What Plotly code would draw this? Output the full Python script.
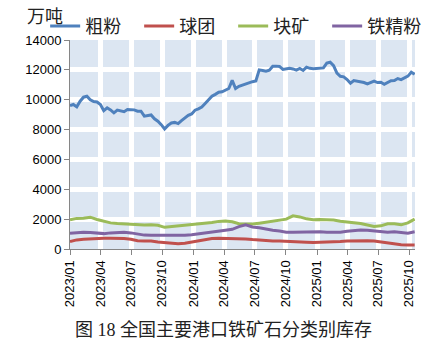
import pandas as pd
import plotly.graph_objects as go

# 10-day sampled dates for 粗粉, 20-day sampled dates for the others
dates_10 = pd.date_range("2023-01-01", periods=103, freq="10D")
dates_20 = pd.date_range("2023-01-01", periods=52, freq="20D")

coarse = [9600, 9680, 9520, 9900, 10170, 10230, 10000, 9880, 9850, 9680,
          9270, 9450, 9320, 9120, 9300, 9230, 9200, 9340, 9340, 9320,
          9230, 9230, 8900, 8950, 8980, 8720, 8560, 8330, 8040, 8280,
          8440, 8480, 8400, 8600, 8800, 8950, 9050, 9300, 9390, 9510,
          9750, 9960, 10230, 10360, 10500, 10530, 10650, 10750, 11300, 10750,
          10900, 10980, 11060, 11150, 11210, 11250, 12000, 11960, 11910, 11980,
          12240, 12250, 12230, 12030, 12090, 12100, 12060, 11980, 12090, 11960,
          12180, 12100, 12080, 12090, 12100, 12130, 12450, 12510, 12280, 11780,
          11570, 11530, 11350, 11100, 11280, 11240, 11210, 11150, 11060, 11150,
          11240, 11150, 11170, 11030, 11130, 11270, 11280, 11420, 11350, 11460,
          11580, 11840, 11700]

pellet = [500, 610, 650, 680, 720, 720, 720, 720, 700, 650,
          560, 540, 540, 470, 430, 430, 360, 380, 470, 560,
          650, 700, 720, 720, 720, 690, 670, 630, 590, 550,
          540, 540, 530, 500, 470, 450, 430, 440, 460, 490,
          510, 540, 560, 560, 560, 540, 480, 410, 330, 280,
          270, 270]

lump = [1960, 2050, 2060, 2130, 1980, 1850, 1750, 1710, 1680, 1630,
        1590, 1610, 1620, 1590, 1450, 1500, 1500, 1550, 1600, 1690,
        1730, 1780, 1850, 1870, 1820, 1690, 1670, 1670, 1730, 1800,
        1850, 1910, 2000, 2220, 2150, 2020, 1960, 1980, 1980, 1940,
        1860, 1790, 1760, 1710, 1620, 1510, 1550, 1690, 1690, 1620,
        1750, 2000]

concentrate = [1060, 1100, 1125, 1100, 1040, 1030, 1080, 1110, 1115, 1080,
               1000, 930, 920, 920, 900, 890, 910, 920, 950, 1020,
               1080, 1150, 1210, 1260, 1320, 1500, 1620, 1480, 1420, 1320,
               1260, 1200, 1130, 1120, 1130, 1120, 1160, 1160, 1120, 1100,
               1120, 1190, 1260, 1280, 1260, 1230, 1160, 1120, 1150, 1110,
               1060, 1150]

names = ["粗粉", "球团", "块矿", "铁精粉"]
colors = ["#4F81BD", "#C0504D", "#9BBB59", "#8064A2"]

tick_vals = pd.date_range("2023-01-01", "2025-10-01", freq="3MS")
tick_text = [d.strftime("%Y/%m") for d in tick_vals]
y_ticks = [0, 2000, 4000, 6000, 8000, 10000, 12000, 14000]
y_text = [str(v) for v in y_ticks]

fig = go.Figure()
series = [(dates_10, coarse), (dates_20, pellet), (dates_20, lump), (dates_20, concentrate)]
for (dx, vals), nm, c in zip(series, names, colors):
    fig.add_trace(go.Scatter(x=dx, y=vals, name=nm, mode="lines",
                             line=dict(color=c, width=3)))

font_main = "Liberation Sans, Noto Sans CJK SC, sans-serif"
fig.update_layout(
    width=445, height=357,
    margin=dict(l=70, r=30, t=40, b=108, autoexpand=False),
    paper_bgcolor="white",
    plot_bgcolor="#DCE6F2",
    font=dict(family=font_main, size=13, color="#000000"),
    showlegend=True,
    legend=dict(orientation="h", x=-0.072, xanchor="left", y=1.065, yanchor="middle",
                font=dict(size=18, family="Noto Sans CJK SC", color="#222222"),
                bgcolor="rgba(0,0,0,0)", tracegroupgap=0,
                entrywidth=49, entrywidthmode="pixels"),
    annotations=[
        dict(text="万吨", x=-0.072, y=1.12, xref="paper", yref="paper",
             xanchor="center", yanchor="middle",
             showarrow=False, font=dict(size=18, family="Noto Sans CJK SC", color="#222222")),
        dict(text="图 18 全国主要港口铁矿石分类别库存", x=0.446, y=-0.388,
             xref="paper", yref="paper", xanchor="center", yanchor="middle", showarrow=False,
             font=dict(size=18, family="Liberation Serif, Noto Sans CJK SC", color="#222222")),
    ],
)
fig.update_xaxes(
    range=[pd.Timestamp("2023-01-01"), pd.Timestamp("2025-10-18")],
    tickmode="array", tickvals=tick_vals, ticktext=tick_text, tickangle=-90,
    showgrid=True, gridcolor="white", gridwidth=5,
    showline=True, linecolor="#868686", linewidth=1,
    ticks="outside", ticklen=5, tickcolor="#868686",
    tickfont=dict(size=13), zeroline=False, automargin=False,
)
fig.update_yaxes(
    range=[0, 14000], tickmode="array", tickvals=y_ticks, ticktext=y_text,
    showgrid=True, gridcolor="white", gridwidth=5,
    showline=True, linecolor="#868686", linewidth=1,
    ticks="outside", ticklen=5, tickcolor="#868686",
    tickfont=dict(size=13), zeroline=False, automargin=False,
)
fig.write_html("out.html", config={"displayModeBar": False},
               post_script="document.body.style.margin='0px';")
